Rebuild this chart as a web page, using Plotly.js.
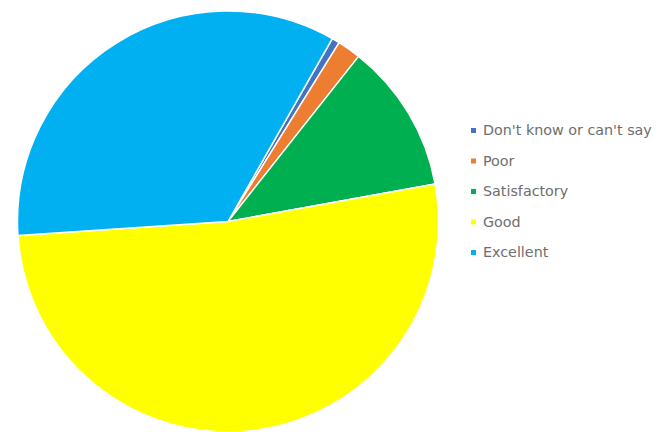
<!DOCTYPE html>
<html>
<head>
<meta charset="utf-8">
<script src="https://cdn.plot.ly/plotly-3.0.1.min.js"></script>
<style>html,body{margin:0;padding:0;background:#fff;}</style>
</head>
<body>
<div id="chart" style="width:670px;height:432px;"></div>
<script>
const labels = ["Don't know or can't say", "Poor", "Satisfactory", "Good", "Excellent"];
const values = [0.6, 1.8, 11.5, 51.8, 34.3];
const colors = ["#4472C4", "#ED7D31", "#00B050", "#FFFF00", "#00B0F0"];

const W = 670, H = 432;
const legendX = 471, legendTextX = 480.5, legendY0 = 130.5, legendStep = 30.5, sq = 5;

const annotations = labels.map((t, i) => ({
  text: t, xref: 'paper', yref: 'paper',
  x: legendTextX / W, y: 1 - (legendY0 + i * legendStep) / H,
  xanchor: 'left', yanchor: 'middle', showarrow: false,
  font: {family: 'DejaVu Sans', size: 14.3, color: '#6e6e6e'}
}));
const shapes = labels.map((t, i) => {
  const yc = legendY0 + i * legendStep;
  return {
    type: 'rect', xref: 'paper', yref: 'paper',
    x0: legendX / W, x1: (legendX + sq) / W,
    y0: 1 - (yc + sq / 2) / H, y1: 1 - (yc - sq / 2) / H,
    fillcolor: colors[i], line: {width: 0}
  };
});

const trace = {
  type: 'pie', labels: labels, values: values, sort: false,
  direction: 'clockwise', rotation: 29.7,
  marker: {colors: colors, line: {color: '#ffffff', width: 1.5}},
  textinfo: 'none', hoverinfo: 'label+percent',
  domain: {x: [(228 - 211) / W, (228 + 211) / W], y: [0, 421 / H]}
};

Plotly.newPlot('chart', [trace], {
  width: W, height: H, margin: {l: 0, r: 0, t: 0, b: 0},
  paper_bgcolor: '#ffffff', showlegend: false,
  annotations: annotations, shapes: shapes
}, {displayModeBar: false, staticPlot: true});
</script>
</body>
</html>
